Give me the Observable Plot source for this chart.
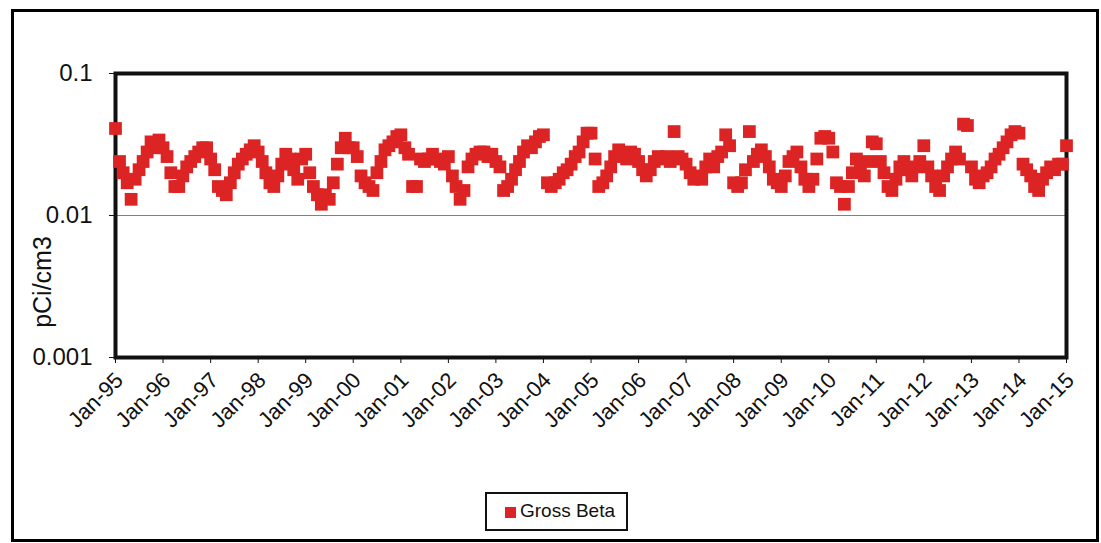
<!DOCTYPE html>
<html>
<head>
<meta charset="utf-8">
<script src="https://cdn.jsdelivr.net/npm/d3@7"></script>
<script src="https://cdn.jsdelivr.net/npm/@observablehq/plot@0.6"></script>
<style>
  body { margin: 0; background: #fff; }
  #wrap { position: relative; width: 1101px; height: 543px; overflow: hidden; font-family: "Liberation Sans", Arial, sans-serif; background: #fff; }
  #border { position: absolute; left: 11px; top: 9px; width: 1082px; height: 527px; border: 3px solid #000; }
  #chart { position: absolute; left: 0; top: 0; }
  #ylabel { position: absolute; left: 42px; top: 282px; transform: translate(-50%, -50%) rotate(-90deg); font-size: 25px; color: #111; white-space: nowrap; }
  #legend { position: absolute; left: 485px; top: 492px; width: 139px; height: 35px; border: 2px solid #111; box-sizing: content-box; }
  #legend .sw { position: absolute; left: 18px; top: 13px; width: 11px; height: 11px; background: #dd2424; }
  #legend .lb { position: absolute; left: 33px; top: 6px; font-size: 19px; color: #111; white-space: nowrap; }
</style>
</head>
<body>
<div id="wrap">
  <div id="border"></div>
  <div id="chart"></div>
  <div id="ylabel">pCi/cm3</div>
  <div id="legend"><div class="sw"></div><div class="lb">Gross Beta</div></div>
</div>
<script>
// Monthly Gross Beta values (pCi/cm3), Jan of each year through Dec
const seriesName = "Gross Beta";
const v1995 = [0.041, 0.024, 0.020, 0.017, 0.013, 0.018, 0.021, 0.024, 0.028, 0.033, 0.030, 0.034];
const v1996 = [0.030, 0.026, 0.020, 0.016, 0.016, 0.019, 0.022, 0.024, 0.026, 0.028, 0.030, 0.030];
const v1997 = [0.025, 0.021, 0.016, 0.015, 0.014, 0.017, 0.020, 0.023, 0.025, 0.027, 0.029, 0.031];
const v1998 = [0.028, 0.024, 0.020, 0.017, 0.016, 0.019, 0.023, 0.027, 0.025, 0.021, 0.018, 0.025];
const v1999 = [0.027, 0.020, 0.016, 0.014, 0.012, 0.014, 0.013, 0.017, 0.023, 0.030, 0.035, 0.030];
const v2000 = [0.030, 0.026, 0.019, 0.017, 0.016, 0.015, 0.020, 0.024, 0.029, 0.031, 0.033, 0.036];
const v2001 = [0.037, 0.030, 0.027, 0.016, 0.016, 0.025, 0.024, 0.025, 0.027, 0.025, 0.024, 0.023];
const v2002 = [0.026, 0.019, 0.016, 0.013, 0.015, 0.022, 0.025, 0.027, 0.028, 0.028, 0.026, 0.027];
const v2003 = [0.024, 0.022, 0.015, 0.016, 0.018, 0.021, 0.024, 0.028, 0.031, 0.030, 0.033, 0.036];
const v2004 = [0.037, 0.017, 0.016, 0.017, 0.018, 0.020, 0.021, 0.023, 0.026, 0.028, 0.033, 0.038];
const v2005 = [0.038, 0.025, 0.016, 0.017, 0.019, 0.022, 0.026, 0.029, 0.027, 0.025, 0.028, 0.027];
const v2006 = [0.024, 0.021, 0.019, 0.021, 0.024, 0.026, 0.025, 0.026, 0.024, 0.039, 0.026, 0.025];
const v2007 = [0.023, 0.020, 0.018, 0.019, 0.018, 0.022, 0.025, 0.022, 0.026, 0.028, 0.037, 0.031];
const v2008 = [0.017, 0.016, 0.017, 0.021, 0.039, 0.024, 0.027, 0.029, 0.026, 0.022, 0.018, 0.017];
const v2009 = [0.016, 0.019, 0.024, 0.026, 0.028, 0.022, 0.018, 0.016, 0.018, 0.025, 0.035, 0.036];
const v2010 = [0.035, 0.028, 0.017, 0.016, 0.012, 0.016, 0.020, 0.025, 0.022, 0.019, 0.024, 0.033];
const v2011 = [0.032, 0.024, 0.020, 0.016, 0.015, 0.018, 0.022, 0.024, 0.021, 0.019, 0.022, 0.024];
const v2012 = [0.031, 0.022, 0.019, 0.016, 0.015, 0.019, 0.022, 0.025, 0.028, 0.025, 0.044, 0.043];
const v2013 = [0.022, 0.018, 0.017, 0.019, 0.020, 0.022, 0.025, 0.027, 0.030, 0.033, 0.037, 0.039];
const v2014 = [0.038, 0.023, 0.021, 0.019, 0.016, 0.015, 0.018, 0.020, 0.022, 0.021, 0.023, 0.023];
const v2015 = [0.031];

const yearly = [v1995, v1996, v1997, v1998, v1999, v2000, v2001, v2002, v2003, v2004,
                v2005, v2006, v2007, v2008, v2009, v2010, v2011, v2012, v2013, v2014, v2015];
const firstYear = 1995;

const xTickYears = [1995,1996,1997,1998,1999,2000,2001,2002,2003,2004,2005,2006,2007,2008,2009,2010,2011,2012,2013,2014,2015];
const xTickLabels = ["Jan-95","Jan-96","Jan-97","Jan-98","Jan-99","Jan-00","Jan-01","Jan-02","Jan-03","Jan-04","Jan-05","Jan-06","Jan-07","Jan-08","Jan-09","Jan-10","Jan-11","Jan-12","Jan-13","Jan-14","Jan-15"];
const yTicks = [0.001, 0.01, 0.1];
const yTickLabels = ["0.001", "0.01", "0.1"];

const data = [];
yearly.forEach((arr, yi) => {
  arr.forEach((v, m) => {
    data.push({ date: new Date(Date.UTC(firstYear + yi, m, 1)), value: v, series: seriesName });
  });
});

const xTicks = xTickYears.map(y => new Date(Date.UTC(y, 0, 1)));

const chart = Plot.plot({
  width: 1101,
  height: 543,
  marginLeft: 115,
  marginRight: 35,
  marginTop: 73,
  marginBottom: 186,
  style: { fontFamily: "'Liberation Sans', Arial, sans-serif", background: "transparent", color: "#111" },
  x: { type: "utc", domain: [xTicks[0], xTicks[xTicks.length - 1]] },
  y: { type: "log", domain: [0.001, 0.1] },
  marks: [
    Plot.ruleY([0.01], { stroke: "#808080", strokeWidth: 1 }),
    Plot.frame({ stroke: "#111", strokeWidth: 4 }),
    Plot.axisY({
      ticks: yTicks,
      tickFormat: d => yTickLabels[yTicks.indexOf(d)],
      tickSize: 6,
      tickPadding: 17,
      fontSize: 24,
      label: null
    }),
    Plot.axisX({
      ticks: xTicks,
      tickFormat: d => xTickLabels[d.getUTCFullYear() - firstYear],
      tickRotate: -45,
      tickSize: 6,
      fontSize: 22,
      label: null,
      text: null
    }),
    Plot.axisX({
      ticks: xTicks,
      tickFormat: d => xTickLabels[d.getUTCFullYear() - firstYear],
      tickRotate: -45,
      tickSize: 0,
      tickPadding: 6,
      fontSize: 22,
      dx: 4,
      dy: 13,
      label: null
    }),
    Plot.dot(data, { x: "date", y: "value", symbol: "square", r: 7.2, fill: "#dd2424", stroke: "none" })
  ]
});
document.getElementById("chart").appendChild(chart);
</script>
</body>
</html>
